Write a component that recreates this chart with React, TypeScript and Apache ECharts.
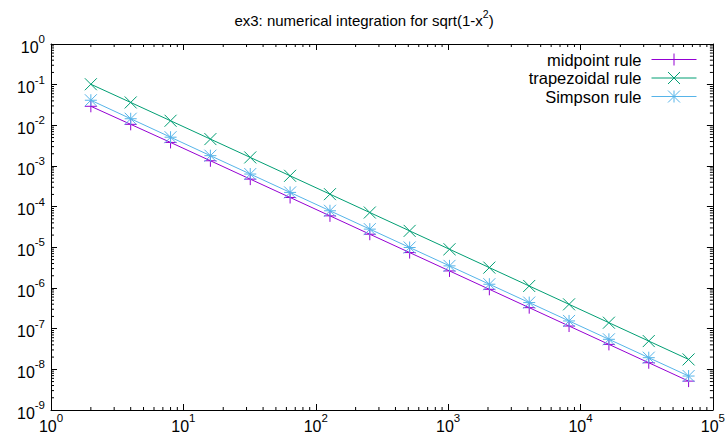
import React, { useEffect, useRef } from "react";
import * as echarts from "echarts";

// number of subintervals n
const nValues = [2, 4, 8, 16, 32, 64, 128, 256, 512, 1024, 2048, 4096, 8192, 16384, 32768, 65536];
// absolute errors
const midpointErr = [2.94e-2, 1.058e-2, 3.8e-3, 1.345e-3, 4.756e-4, 1.682e-4, 5.945e-5, 2.102e-5, 7.432e-6, 2.628e-6, 9.29e-7, 3.284e-7, 1.161e-7, 4.106e-8, 1.452e-8, 5.132e-9];
const trapezoidalErr = [1.024e-1, 3.65e-2, 1.296e-2, 4.592e-3, 1.624e-3, 5.742e-4, 2.03e-4, 7.178e-5, 2.538e-5, 8.972e-6, 3.172e-6, 1.1215e-6, 3.965e-7, 1.402e-7, 4.956e-8, 1.752e-8];
const simpsonErr = [4.14e-2, 1.453e-2, 5.11e-3, 1.794e-3, 6.342e-4, 2.242e-4, 7.927e-5, 2.803e-5, 9.909e-6, 3.503e-6, 1.2387e-6, 4.379e-7, 1.548e-7, 5.474e-8, 1.935e-8, 6.843e-9];

const seriesNames = ["midpoint rule", "trapezoidal rule", "Simpson rule"];
const seriesColors = ["#9400d3", "#009e73", "#56b4e9"];

const xMin = 1;
const xMax = 1e5;
const yMin = 1e-9;
const yMax = 1;
const xDecades = [0, 1, 2, 3, 4];
const yDecades = [-9, -8, -7, -6, -5, -4, -3, -2, -1];
const minorMultipliers = [2, 3, 4, 5, 6, 7, 8, 9];

const FONT = "'Liberation Sans', Arial, Helvetica, sans-serif";

const plusPath = "path://M6 0V12M0 6H12";
const crossPath = "path://M0 0L12 12M12 0L0 12";
const starPath = "path://M6 0V12M0 6H12M0 0L12 12M12 0L0 12";
const symbols = [plusPath, crossPath, starPath];

export default function App() {
  const ref = useRef<HTMLDivElement>(null);

  useEffect(() => {
    const chart = echarts.init(ref.current!, null, { renderer: "svg" });

    const rich = {
      b: { fontSize: 16, lineHeight: 22, verticalAlign: "bottom", fontFamily: FONT, color: "#000" },
      s: { fontSize: 11.5, lineHeight: 11, verticalAlign: "top", fontFamily: FONT, color: "#000" },
    };
    const fmt = (v: number) => `{b|10}{s|${Math.round(Math.log10(v))}}`;

    const xMinor: number[] = [];
    xDecades.forEach((d) => minorMultipliers.forEach((m) => xMinor.push(m * Math.pow(10, d))));
    const yMinor: number[] = [];
    yDecades.forEach((d) => minorMultipliers.forEach((m) => yMinor.push(m * Math.pow(10, d))));

    const tickStyle = { stroke: "#000", lineWidth: 1 };
    const minorLen = 3;

    const axisCommon = {
      type: "log" as const,
      logBase: 10,
      axisLine: { show: true, onZero: false, lineStyle: { color: "#000", width: 1 } },
      axisTick: { show: true, inside: true, length: 6, lineStyle: { color: "#000", width: 1 } },
      splitLine: { show: false },
      minorTick: { show: false },
    };

    const lineSeries = seriesNames.map((name, i) => {
      const vals = [midpointErr, trapezoidalErr, simpsonErr][i];
      return {
        name,
        type: "line",
        xAxisIndex: 0,
        yAxisIndex: 0,
        data: nValues.map((n, j) => [n, vals[j]]),
        symbol: symbols[i],
        symbolSize: 12,
        showAllSymbol: true,
        lineStyle: { color: seriesColors[i], width: 1 },
        itemStyle: { color: seriesColors[i], borderColor: seriesColors[i], borderWidth: 1 },
        emphasis: { disabled: true },
        z: 3 + i,
      };
    });

    chart.setOption({
      animation: false,
      backgroundColor: "#fff",
      title: {
        text: "{a|ex3: numerical integration for sqrt(1-x}{s|2}{a|)}",
        left: "center",
        top: 3,
        textStyle: {
          rich: {
            a: { fontSize: 15, fontWeight: "normal", lineHeight: 20, verticalAlign: "bottom", fontFamily: FONT, color: "#000" },
            s: { fontSize: 10.5, fontWeight: "normal", lineHeight: 10, verticalAlign: "top", fontFamily: FONT, color: "#000" },
          },
        },
      },
      legend: {
        data: seriesNames,
        orient: "vertical",
        right: 31,
        top: 51,
        align: "right",
        padding: 0,
        itemWidth: 45,
        itemHeight: 15,
        itemGap: 1.5,
        lineStyle: { width: 1 },
        itemStyle: { borderWidth: 1 },
        textStyle: { fontSize: 16.5, lineHeight: 15, fontFamily: FONT, color: "#000", padding: [0, 5, 0, 0] },
      },
      grid: { left: 51, right: 13, top: 44, bottom: 23, containLabel: false },
      xAxis: [
        {
          ...axisCommon,
          position: "bottom",
          min: xMin,
          max: xMax,
          splitNumber: 5,
          axisLabel: { formatter: fmt, rich, margin: 2 },
        },
        {
          ...axisCommon,
          position: "top",
          min: xMin,
          max: xMax,
          splitNumber: 5,
          axisLabel: { show: false },
        },
      ],
      yAxis: [
        {
          ...axisCommon,
          position: "left",
          min: yMin,
          max: yMax,
          splitNumber: 9,
          axisLabel: { formatter: fmt, rich, margin: 6 },
        },
        {
          ...axisCommon,
          position: "right",
          min: yMin,
          max: yMax,
          splitNumber: 9,
          axisLabel: { show: false },
        },
      ],
      series: [
        {
          type: "custom",
          silent: true,
          xAxisIndex: 0,
          yAxisIndex: 0,
          data: xMinor.map((v) => [v, yMin]),
          renderItem: (_p: any, api: any) => {
            const v = api.value(0);
            const b = api.coord([v, yMin]);
            const t = api.coord([v, yMax]);
            return {
              type: "group",
              children: [
                { type: "line", shape: { x1: b[0], y1: b[1], x2: b[0], y2: b[1] - minorLen }, style: tickStyle },
                { type: "line", shape: { x1: t[0], y1: t[1], x2: t[0], y2: t[1] + minorLen }, style: tickStyle },
              ],
            };
          },
          z: 1,
        },
        {
          type: "custom",
          silent: true,
          xAxisIndex: 0,
          yAxisIndex: 0,
          data: yMinor.map((v) => [xMin, v]),
          renderItem: (_p: any, api: any) => {
            const v = api.value(1);
            const l = api.coord([xMin, v]);
            const r = api.coord([xMax, v]);
            return {
              type: "group",
              children: [
                { type: "line", shape: { x1: l[0], y1: l[1], x2: l[0] + minorLen, y2: l[1] }, style: tickStyle },
                { type: "line", shape: { x1: r[0], y1: r[1], x2: r[0] - minorLen, y2: r[1] }, style: tickStyle },
              ],
            };
          },
          z: 1,
        },
        ...lineSeries,
      ],
    });

    return () => chart.dispose();
  }, []);

  return <div ref={ref} style={{ position: "absolute", left: 0, top: 0, width: 728, height: 434 }} />;
}
